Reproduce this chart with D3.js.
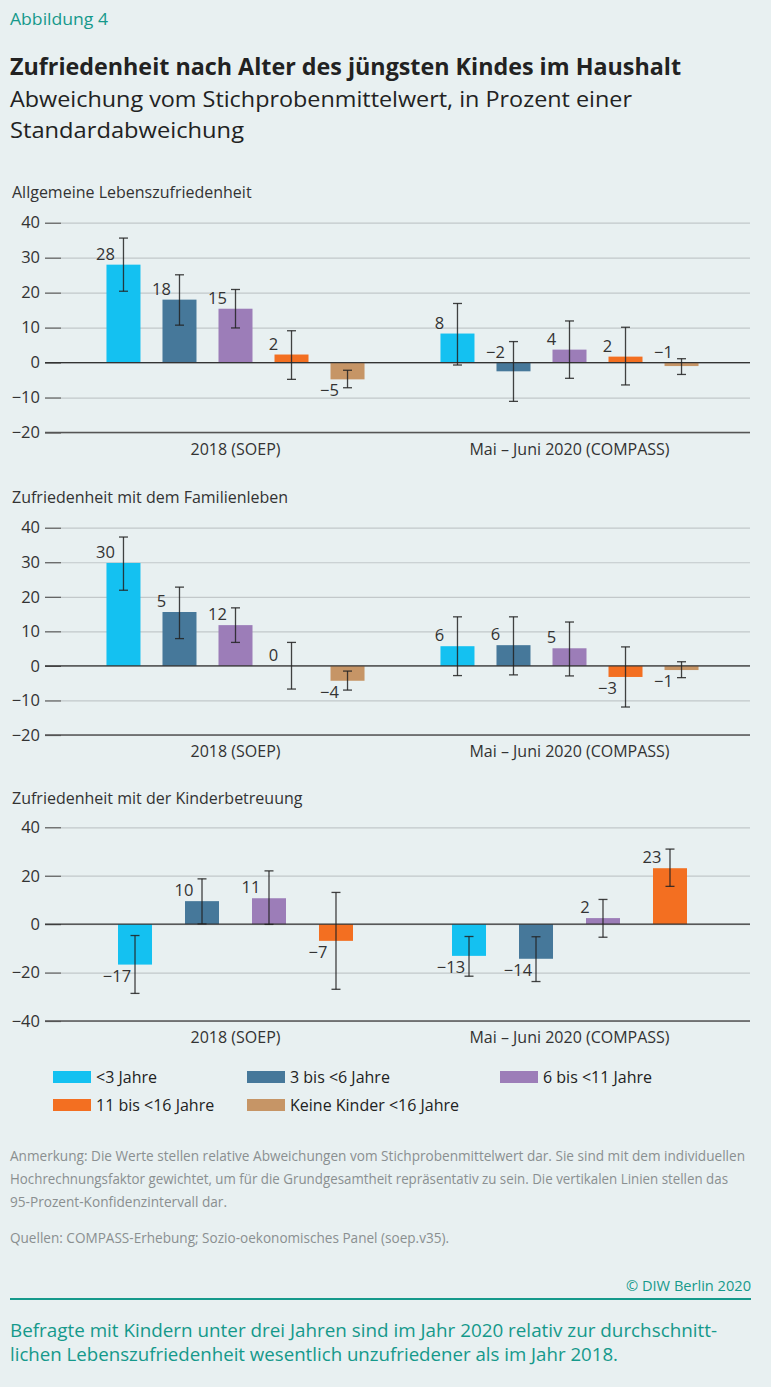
<!DOCTYPE html>
<html>
<head>
<meta charset="utf-8">
<script src="https://cdn.jsdelivr.net/npm/d3@7"></script>
<style>
body{margin:0;background:#e8f0f1;}
svg{display:block;font-family:"Open Sans",sans-serif;}
</style>
</head>
<body>
<div id="chart"></div>
<script>
// categories and groups
var categories = ["<3 Jahre", "3 bis <6 Jahre", "6 bis <11 Jahre", "11 bis <16 Jahre", "Keine Kinder <16 Jahre"];
var groups = ["2018 (SOEP)", "Mai – Juni 2020 (COMPASS)"];
var colors = ["#14c1f1", "#46789a", "#9c7db8", "#f36f21", "#c69566"];

// Allgemeine Lebenszufriedenheit
var lebenVal = [[28.0, 18.0, 15.4, 2.3, -4.8], [8.3, -2.5, 3.7, 1.7, -1.0]];
var lebenLo  = [[20.4, 10.7, 9.9, -4.8, -7.2], [-0.7, -11.1, -4.5, -6.4, -3.4]];
var lebenHi  = [[35.6, 25.1, 20.9, 9.1, -2.2], [16.9, 6.0, 11.9, 10.1, 1.1]];
var lebenLbl = [["28", "18", "15", "2", "−5"], ["8", "−2", "4", "2", "−1"]];

// Zufriedenheit mit dem Familienleben
var familieVal = [[29.8, 15.6, 11.8, 0, -4.3], [5.7, 6.0, 5.1, -3.2, -1.2]];
var familieLo  = [[21.9, 7.9, 6.8, -6.7, -7.0], [-2.8, -2.6, -2.9, -11.9, -3.4]];
var familieHi  = [[37.3, 22.8, 16.8, 6.8, -1.5], [14.2, 14.2, 12.7, 5.5, 1.2]];
var familieLbl = [["30", "5", "12", "0", "−4"], ["6", "6", "5", "−3", "−1"]];

// Zufriedenheit mit der Kinderbetreuung
var kinderVal = [[-16.7, 9.5, 10.7, -6.9], [-13.1, -14.3, 2.5, 23.1]];
var kinderLo  = [[-28.6, 0.1, -0.1, -26.9], [-21.5, -23.7, -5.4, 15.6]];
var kinderHi  = [[-4.7, 18.7, 22.0, 13.1], [-5.1, -5.2, 10.2, 31.0]];
var kinderLbl = [["−17", "10", "11", "−7"], ["−13", "−14", "2", "23"]];

// tick values
var ticks10 = [-20, -10, 0, 10, 20, 30, 40];
var ticks20 = [-40, -20, 0, 20, 40];

var width = 771, height = 1387;
var teal = "#15998b", ink = "#333";

var svg = d3.select("#chart").append("svg")
    .attr("width", width)
    .attr("height", height);

svg.append("rect").attr("width", width).attr("height", height).attr("fill", "#e8f0f1");

// fit a text to a given width (condensed look of the original)
function fitText(sel, w) {
    sel.attr("textLength", w).attr("lengthAdjust", "spacingAndGlyphs");
    return sel;
}

// header
fitText(svg.append("text").attr("x", 10).attr("y", 25)
    .attr("fill", teal).style("font-size", "16px").text("Abbildung 4"), 98);
fitText(svg.append("text").attr("x", 10).attr("y", 75)
    .attr("fill", "#222").style("font-size", "23px").style("font-weight", "bold")
    .text("Zufriedenheit nach Alter des jüngsten Kindes im Haushalt"), 671);
fitText(svg.append("text").attr("x", 10).attr("y", 107)
    .attr("fill", "#222").style("font-size", "22px")
    .text("Abweichung vom Stichprobenmittelwert, in Prozent einer"), 622);
fitText(svg.append("text").attr("x", 10).attr("y", 138)
    .attr("fill", "#222").style("font-size", "22px")
    .text("Standardabweichung"), 234);

var panels = [
    {title: "Allgemeine Lebenszufriedenheit", titleY: 198, top: 222.7, bottom: 432.5,
     domain: [-20, 40], ticks: ticks10, val: lebenVal, lo: lebenLo, hi: lebenHi, lbl: lebenLbl,
     nCat: 5, padIn: 0.393, padOut: 0.678, above: [[], [1, 4]]},
    {title: "Zufriedenheit mit dem Familienleben", titleY: 503, top: 527.7, bottom: 735,
     domain: [-20, 40], ticks: ticks10, val: familieVal, lo: familieLo, hi: familieHi, lbl: familieLbl,
     nCat: 5, padIn: 0.393, padOut: 0.678, above: [[], []]},
    {title: "Zufriedenheit mit der Kinderbetreuung", titleY: 804, top: 827.3, bottom: 1021,
     domain: [-40, 40], ticks: ticks20, val: kinderVal, lo: kinderLo, hi: kinderHi, lbl: kinderLbl,
     nCat: 4, padIn: 0.4925, padOut: 0.739, above: [[], []]}
];

var left = 61, right = 750;

panels.forEach(function (p) {
    var g = svg.append("g");
    var x0 = d3.scaleBand().domain(groups).range([68.5, 736.5]);
    var cats = categories.slice(0, p.nCat);
    var x1 = d3.scaleBand().domain(cats).range([0, x0.bandwidth()])
        .paddingInner(p.padIn).paddingOuter(p.padOut);
    var y = d3.scaleLinear().domain(p.domain).range([p.bottom, p.top]);

    g.append("text").attr("x", 12).attr("y", p.titleY)
        .attr("fill", ink).style("font-size", "16px").text(p.title);

    // gridlines
    var grid = g.append("g").attr("transform", "translate(" + left + ",0)")
        .call(d3.axisLeft(y).tickValues(p.ticks).tickSize(-(right - left)).tickFormat(""));
    grid.select(".domain").remove();
    grid.selectAll("line").attr("stroke", "#c2c8ca").attr("stroke-width", 1.2);

    // y axis
    var ya = g.append("g").attr("transform", "translate(" + left + ",0)")
        .call(d3.axisLeft(y).tickValues(p.ticks).tickSize(16).tickPadding(5));
    ya.select(".domain").remove();
    ya.selectAll("line").attr("stroke", "#555").attr("stroke-width", 1.2);
    ya.selectAll("text").attr("fill", ink).style("font-size", "16.5px")
        .style("font-family", "'Open Sans',sans-serif");

    var rows = [];
    groups.forEach(function (gr, gi) {
        cats.forEach(function (c, ci) {
            rows.push({g: gr, c: c, ci: ci, v: p.val[gi][ci], lo: p.lo[gi][ci], hi: p.hi[gi][ci],
                lbl: p.lbl[gi][ci], above: p.above[gi].indexOf(ci) >= 0});
        });
    });

    g.selectAll("rect.bar").data(rows).enter().append("rect")
        .attr("class", "bar")
        .attr("x", function (d) { return x0(d.g) + x1(d.c); })
        .attr("y", function (d) { return y(Math.max(0, d.v)); })
        .attr("width", x1.bandwidth())
        .attr("height", function (d) { return Math.abs(y(d.v) - y(0)); })
        .attr("fill", function (d) { return colors[d.ci]; });

    // zero line and bottom line
    g.append("line").attr("x1", 45).attr("x2", right).attr("y1", y(0)).attr("y2", y(0))
        .attr("stroke", "#333").attr("stroke-width", 1.3);
    g.append("line").attr("x1", 45).attr("x2", right).attr("y1", p.bottom).attr("y2", p.bottom)
        .attr("stroke", "#555").attr("stroke-width", 1.6);

    // value labels
    g.selectAll("text.val").data(rows).enter().append("text")
        .attr("class", "val")
        .attr("x", function (d) { return x0(d.g) + x1(d.c) - 1; })
        .attr("y", function (d) {
            if (d.v >= 0 || d.above) return y(Math.max(d.v, 0)) - 5;
            return y(d.v) + 17;
        })
        .attr("text-anchor", "middle")
        .attr("fill", ink).style("font-size", "16.5px")
        .text(function (d) { return d.lbl; });

    // error bars
    var eb = g.selectAll("g.err").data(rows).enter().append("g")
        .attr("class", "err")
        .attr("transform", function (d) { return "translate(" + (x0(d.g) + x1(d.c) + x1.bandwidth() / 2) + ",0)"; })
        .attr("stroke", "#222").attr("stroke-opacity", 0.85).attr("stroke-width", 1.3);
    eb.append("line").attr("y1", function (d) { return y(d.lo); }).attr("y2", function (d) { return y(d.hi); });
    eb.append("line").attr("x1", -4.5).attr("x2", 4.5)
        .attr("y1", function (d) { return y(d.lo); }).attr("y2", function (d) { return y(d.lo); });
    eb.append("line").attr("x1", -4.5).attr("x2", 4.5)
        .attr("y1", function (d) { return y(d.hi); }).attr("y2", function (d) { return y(d.hi); });

    // group labels
    var xa = g.append("g").attr("transform", "translate(0," + p.bottom + ")")
        .call(d3.axisBottom(x0).tickSize(0).tickPadding(11));
    xa.select(".domain").remove();
    xa.selectAll("text").attr("fill", ink).style("font-size", "16px")
        .style("font-family", "'Open Sans',sans-serif");
});

// legend
var legendCols = [53, 247, 500];
var leg = svg.selectAll("g.leg").data(categories).enter().append("g")
    .attr("class", "leg")
    .attr("transform", function (d, i) {
        return "translate(" + legendCols[i % 3] + "," + (1071 + Math.floor(i / 3) * 28) + ")";
    });
leg.append("rect").attr("width", 38).attr("height", 12)
    .attr("fill", function (d, i) { return colors[i]; });
leg.append("text").attr("x", 43).attr("y", 11.5)
    .attr("fill", "#222").style("font-size", "16px")
    .text(function (d) { return d; });

// notes
var notes = [
    ["Anmerkung: Die Werte stellen relative Abweichungen vom Stichprobenmittelwert dar. Sie sind mit dem individuellen", 1161, 735],
    ["Hochrechnungsfaktor gewichtet, um für die Grundgesamtheit repräsentativ zu sein. Die vertikalen Linien stellen das", 1184, 718],
    ["95-Prozent-Konfidenzintervall dar.", 1207, 217],
    ["Quellen: COMPASS-Erhebung; Sozio-oekonomisches Panel (soep.v35).", 1243, 439]
];
notes.forEach(function (n) {
    fitText(svg.append("text").attr("x", 10).attr("y", n[1])
        .attr("fill", "#8a8f90").style("font-size", "14px").text(n[0]), n[2]);
});

// footer
fitText(svg.append("text").attr("x", 751).attr("y", 1291).attr("text-anchor", "end")
    .attr("fill", teal).style("font-size", "14px").text("© DIW Berlin 2020"), 125);
svg.append("line").attr("x1", 10).attr("x2", 751).attr("y1", 1299).attr("y2", 1299)
    .attr("stroke", teal).attr("stroke-width", 2);
fitText(svg.append("text").attr("x", 10).attr("y", 1337)
    .attr("fill", teal).style("font-size", "18px")
    .text("Befragte mit Kindern unter drei Jahren sind im Jahr 2020 relativ zur durchschnitt-"), 707);
fitText(svg.append("text").attr("x", 10).attr("y", 1361)
    .attr("fill", teal).style("font-size", "18px")
    .text("lichen Lebenszufriedenheit wesentlich unzufriedener als im Jahr 2018."), 608);
</script>
</body>
</html>
